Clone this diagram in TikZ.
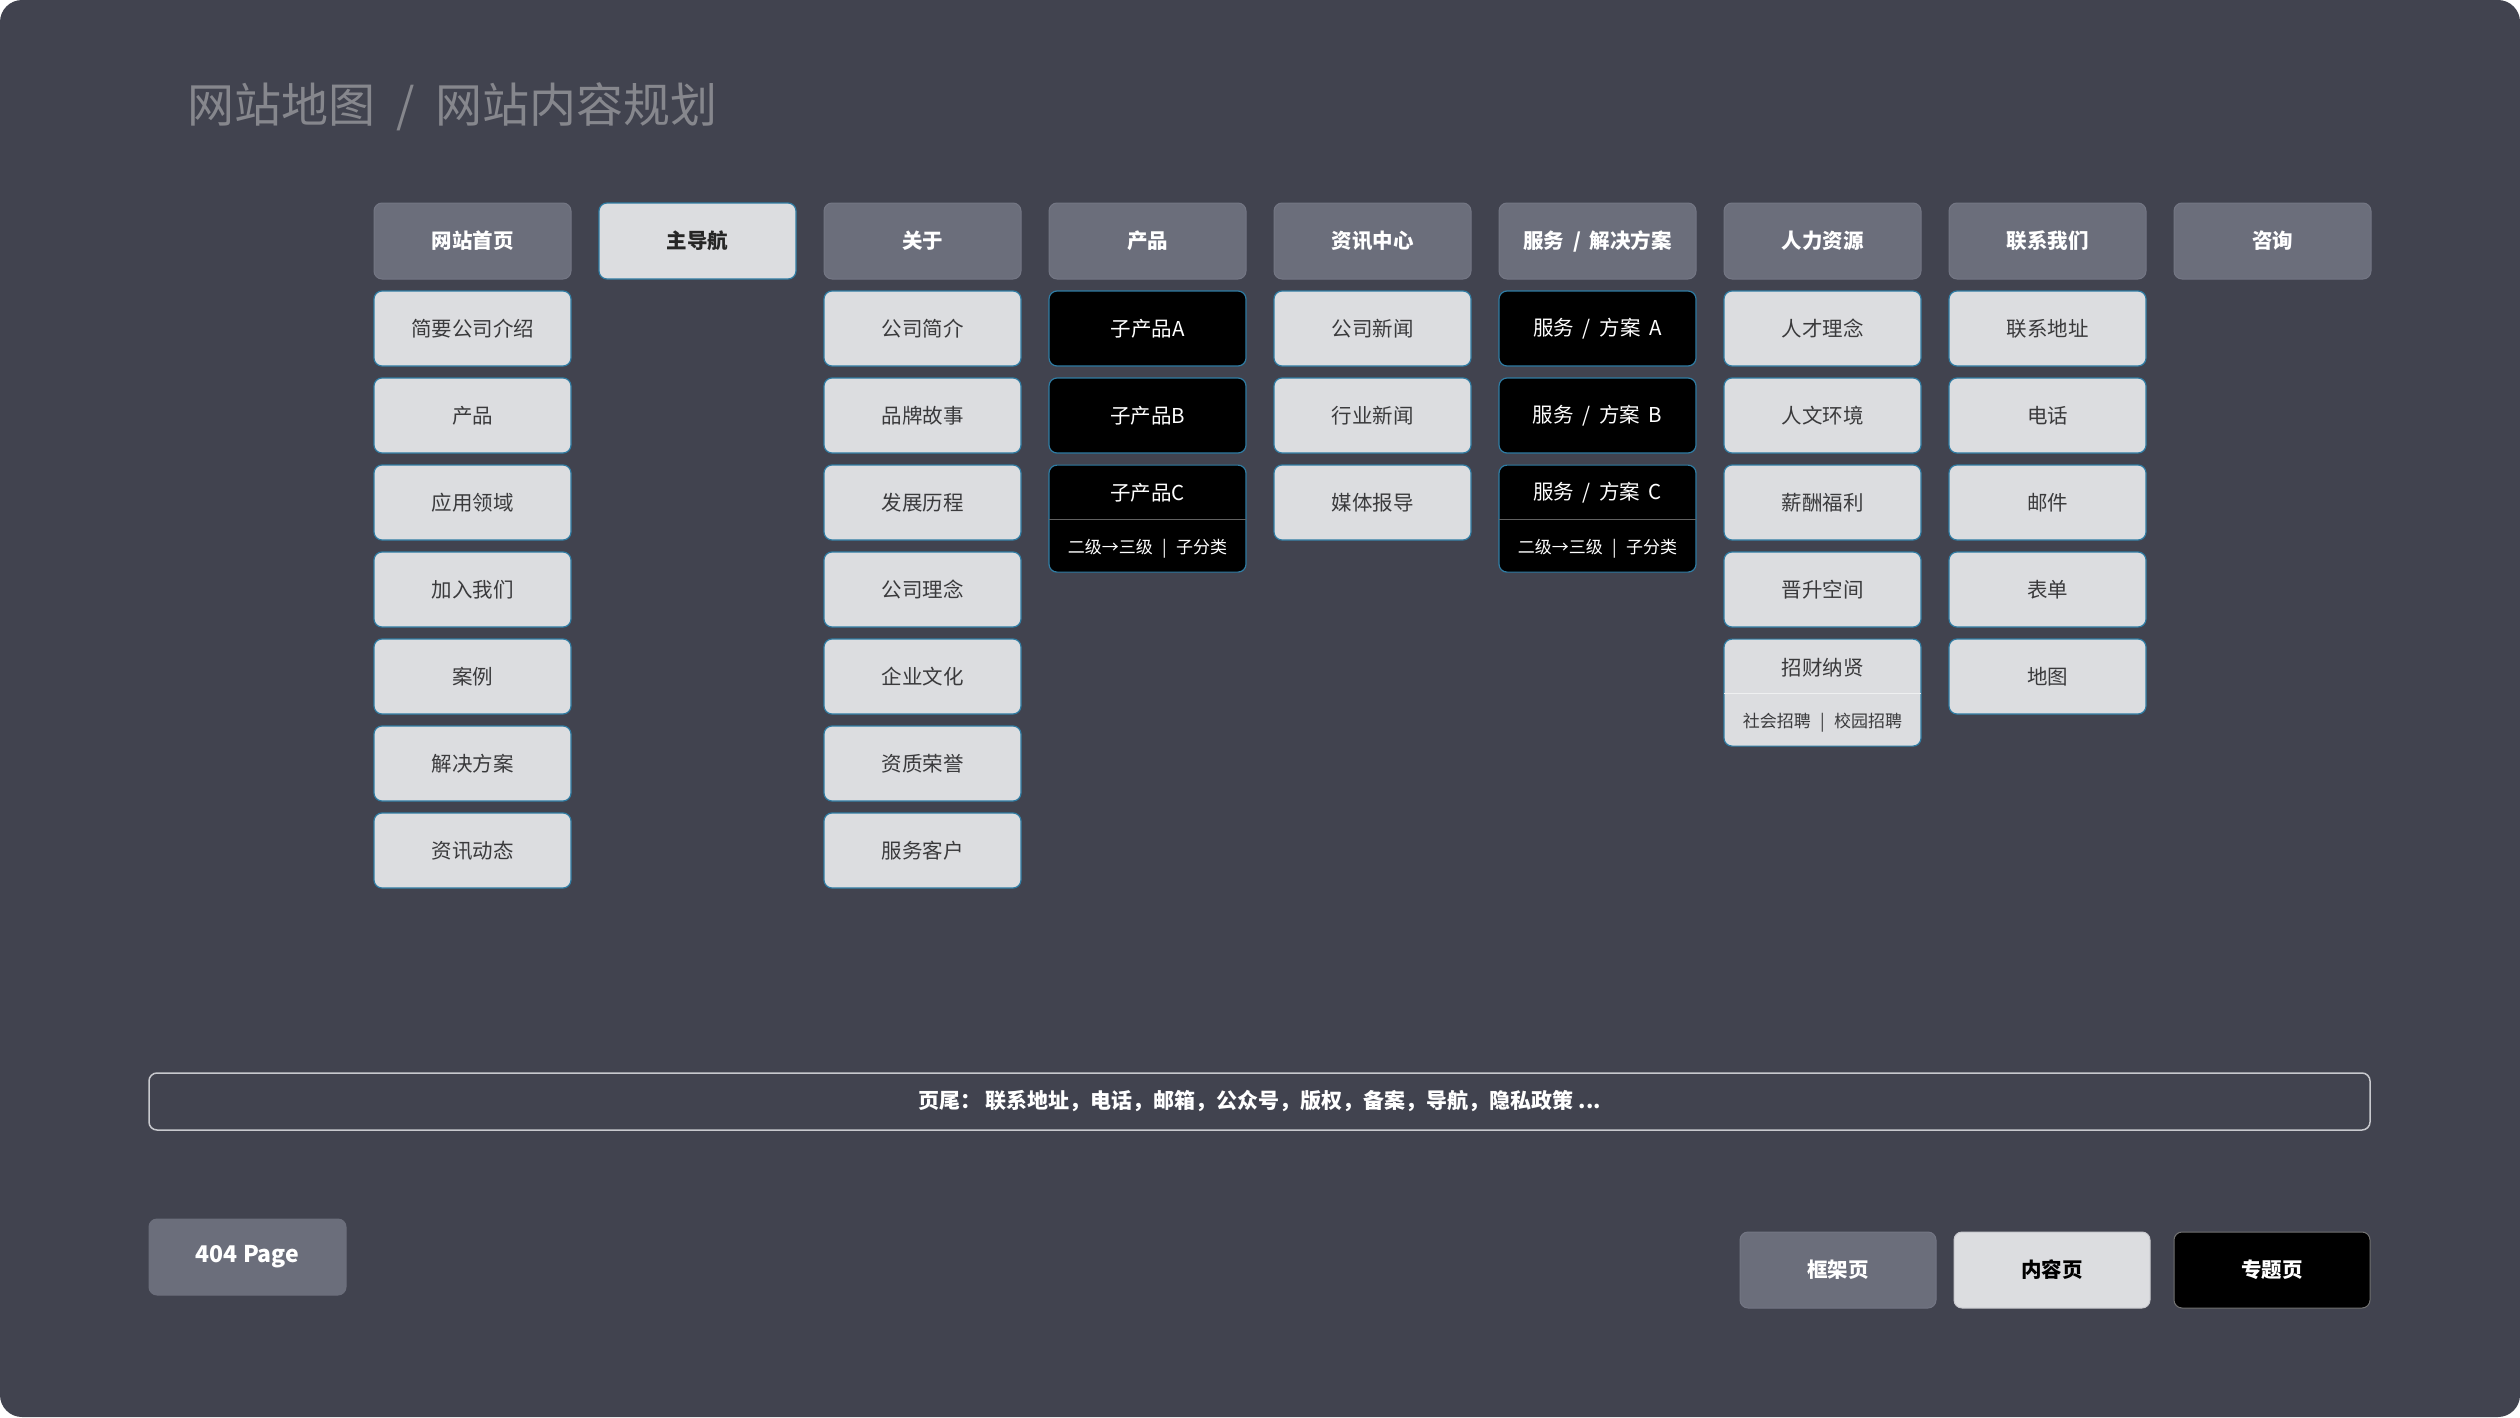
\documentclass[tikz,border=0pt]{standalone}
\usepackage{fontspec}
\setmainfont{Noto Sans CJK SC}
\definecolor{pagebg}{HTML}{41434F}
\definecolor{headgray}{HTML}{6B6E7B}
\definecolor{headedge}{HTML}{737684}
\definecolor{lightfill}{HTML}{DCDDE0}
\definecolor{edgeteal}{HTML}{2F7CA3}
\definecolor{itemtext}{HTML}{3A3A3C}
\definecolor{titlegray}{HTML}{86878D}
\definecolor{footedge}{HTML}{C8C9CE}
\newcommand{\boxheadfont}{\fontsize{20.5}{24}\selectfont\bfseries}
\newcommand{\boxitemfont}{\fontsize{20.5}{24}\selectfont}
\newcommand{\boxsubfont}{\fontsize{17}{20}\selectfont}
\newcommand{\wgap}{\hspace{0.42em}}
\newcommand{\sgap}{\hspace{0.55em}}
\tikzset{
  headbox/.style={rounded corners=8pt, fill=headgray, draw=headedge, line width=1pt,
    minimum width=197pt, minimum height=76pt, inner sep=0pt, text=white, font=\boxheadfont},
  itembox/.style={rounded corners=8pt, fill=lightfill, draw=edgeteal, line width=1.2pt,
    minimum width=197pt, minimum height=75pt, inner sep=0pt, text=itemtext, font=\boxitemfont},
  darkbox/.style={itembox, fill=black, text=white},
  tallbox/.style={minimum height=107pt, anchor=north},
  legendbox/.style={headbox, minimum width=196pt}
}
\begin{document}
\begin{tikzpicture}[x=1pt,y=-1pt]
    \useasboundingbox (0,0) rectangle (2520,1418);
    \fill[white] (0,0) rectangle (2520,1418);
    \fill[pagebg, rounded corners=22pt] (0,0) rectangle (2520,1417);
    \node[anchor=west, inner sep=0pt, text=titlegray, font=\fontsize{47}{52}\selectfont] (title) at (187,107) {网站地图\hspace{0.45em}/\hspace{0.45em}网站内容规划};
    \node[headbox] (home) at (472.5,241) {网站首页};
    \node[itembox] (home1) at (472.5,328.5) {简要公司介绍};
    \node[itembox] (home2) at (472.5,415.5) {产品};
    \node[itembox] (home3) at (472.5,502.5) {应用领域};
    \node[itembox] (home4) at (472.5,589.5) {加入我们};
    \node[itembox] (home5) at (472.5,676.5) {案例};
    \node[itembox] (home6) at (472.5,763.5) {解决方案};
    \node[itembox] (home7) at (472.5,850.5) {资讯动态};
    \node[itembox, minimum height=76pt, text=black!85, font=\boxheadfont] (nav) at (697.5,241) {主导航};
    \node[headbox] (about) at (922.5,241) {关于};
    \node[itembox] (about1) at (922.5,328.5) {公司简介};
    \node[itembox] (about2) at (922.5,415.5) {品牌故事};
    \node[itembox] (about3) at (922.5,502.5) {发展历程};
    \node[itembox] (about4) at (922.5,589.5) {公司理念};
    \node[itembox] (about5) at (922.5,676.5) {企业文化};
    \node[itembox] (about6) at (922.5,763.5) {资质荣誉};
    \node[itembox] (about7) at (922.5,850.5) {服务客户};
    \node[headbox] (prod) at (1147.5,241) {产品};
    \node[darkbox] (prod1) at (1147.5,328.5) {子产品A};
    \node[darkbox] (prod2) at (1147.5,415.5) {子产品B};
    \node[darkbox, tallbox] (prod3) at (1147.5,464.5) {};
    \draw[black!62, line width=1.6pt] ([xshift=1pt, yshift=-55pt]prod3.north west) -- ([xshift=-1pt, yshift=-55pt]prod3.north east);
    \node[text=white, font=\boxitemfont] (prod3top) at (1147.5,492.5) {子产品C};
    \node[text=white, font=\boxsubfont] (prod3sub) at (1147.5,548.5) {二级→三级\sgap{}|\sgap{}子分类};
    \node[headbox] (news) at (1372.5,241) {资讯中心};
    \node[itembox] (news1) at (1372.5,328.5) {公司新闻};
    \node[itembox] (news2) at (1372.5,415.5) {行业新闻};
    \node[itembox] (news3) at (1372.5,502.5) {媒体报导};
    \node[headbox] (serv) at (1597.5,241) {服务\wgap{}/\wgap{}解决方案};
    \node[darkbox] (serv1) at (1597.5,328.5) {服务\wgap{}/\wgap{}方案\wgap{}A};
    \node[darkbox] (serv2) at (1597.5,415.5) {服务\wgap{}/\wgap{}方案\wgap{}B};
    \node[darkbox, tallbox] (serv3) at (1597.5,464.5) {};
    \draw[black!62, line width=1.6pt] ([xshift=1pt, yshift=-55pt]serv3.north west) -- ([xshift=-1pt, yshift=-55pt]serv3.north east);
    \node[text=white, font=\boxitemfont] (serv3top) at (1597.5,492.5) {服务\wgap{}/\wgap{}方案\wgap{}C};
    \node[text=white, font=\boxsubfont] (serv3sub) at (1597.5,548.5) {二级→三级\sgap{}|\sgap{}子分类};
    \node[headbox] (hr) at (1822.5,241) {人力资源};
    \node[itembox] (hr1) at (1822.5,328.5) {人才理念};
    \node[itembox] (hr2) at (1822.5,415.5) {人文环境};
    \node[itembox] (hr3) at (1822.5,502.5) {薪酬福利};
    \node[itembox] (hr4) at (1822.5,589.5) {晋升空间};
    \node[itembox, tallbox] (hr5) at (1822.5,638.5) {};
    \draw[white!55!lightfill, line width=1.6pt] ([xshift=1pt, yshift=-55pt]hr5.north west) -- ([xshift=-1pt, yshift=-55pt]hr5.north east);
    \node[text=itemtext, font=\boxitemfont] (hr5top) at (1822.5,667.5) {招财纳贤};
    \node[text=itemtext, font=\boxsubfont] (hr5sub) at (1822.5,723) {社会招聘\sgap{}|\sgap{}校园招聘};
    \node[headbox] (contact) at (2047.5,241) {联系我们};
    \node[itembox] (contact1) at (2047.5,328.5) {联系地址};
    \node[itembox] (contact2) at (2047.5,415.5) {电话};
    \node[itembox] (contact3) at (2047.5,502.5) {邮件};
    \node[itembox] (contact4) at (2047.5,589.5) {表单};
    \node[itembox] (contact5) at (2047.5,676.5) {地图};
    \node[headbox] (consult) at (2272.5,241) {咨询};
    \node[rounded corners=8pt, draw=footedge, line width=1.5pt, minimum width=2221pt, minimum height=57pt, inner sep=0pt, text=white, font=\fontsize{21}{25}\selectfont\bfseries] (footer) at (1259.5,1101.5) {页尾：\ 联系地址，电话，邮箱，公众号，版权，备案，导航，隐私政策 ...};
    \node[headbox, draw=headgray, font=\fontsize{23}{27}\selectfont\bfseries] (notfound) at (247.5,1257) {404 Page};
    \node[legendbox] (legframe) at (1838,1270) {框架页};
    \node[legendbox, fill=lightfill, draw=footedge, text=black] (legcontent) at (2052,1270) {内容页};
    \node[legendbox, fill=black, draw=black!55, text=white] (legtopic) at (2272,1270) {专题页};
\end{tikzpicture}
\end{document}
